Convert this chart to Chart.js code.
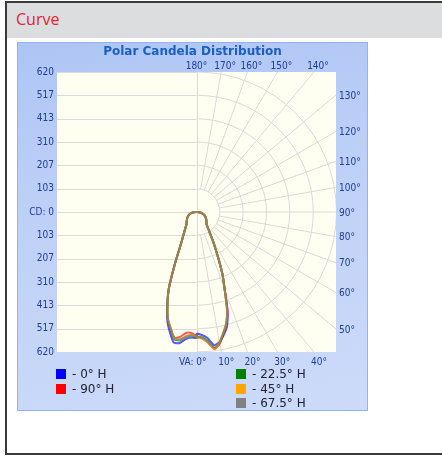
<!DOCTYPE html>
<html>
<head>
<meta charset="utf-8">
<script src="https://cdn.jsdelivr.net/npm/chart.js@4.4.0/dist/chart.umd.min.js"></script>
<style>
  body { margin: 0; width: 442px; height: 456px; overflow: hidden; background: #fff; position: relative; }
  #frame { position: absolute; left: 5px; top: 1px; width: 460px; height: 450px; border: 2px solid #3a3a3a; }
  #header { position: absolute; left: 7px; top: 3px; width: 440px; height: 35px; background: #dcdddf; }
  #header span { position: absolute; left: 9px; top: 5px; color: #e8232f; font: 16px 'Open Sans', sans-serif; line-height: normal; }
  #panel { position: absolute; left: 17px; top: 42px; width: 349px; height: 367px; border: 1px solid #93b2f0;
           background: linear-gradient(170deg, #aec5f5 0%, #bdd0f7 40%, #cddbf9 100%); }
  #c { position: absolute; left: 18px; top: 43px; }
  .lg { position: absolute; font: 12px 'DejaVu Sans', sans-serif; line-height: 14px; color: #222233; white-space: nowrap; }
  .sw { position: absolute; width: 10px; height: 10px; }
</style>
</head>
<body>
<div id="frame"></div>
<div id="header"><span>Curve</span></div>
<div id="panel"></div>
<canvas id="c" width="349" height="367"></canvas>
<div id="legend"></div>
<script>
// vertical angles (deg from nadir) at which the candela values are read
var vaAngles = [0, 2.5, 5, 7.5, 10, 12.5, 15, 17.5, 20, 22.5, 25, 27.5, 30, 35, 40, 45, 50, 55, 60, 65, 70, 75, 80, 85, 90];

// candela per C-plane, right half and opposite (left) half
var h0Right  = [540,545,560,595,586,558,524,457,368,305,236,182,143,92,69,63,57,52,47,41,35,28,20,11,0];
var h0Left   = [558,556,566,586,586,546,500,432,360,256,178,138,115,85,68,62,56,51,46,40,35,29,22,12,0];
var h22Right = [550,555,573,607,590,551,513,452,366,304,235,181,143,92,69,63,57,52,47,41,35,28,20,11,0];
var h22Left  = [552,548,556,574,573,531,492,429,358,255,178,138,115,85,68,62,56,51,46,40,35,29,22,12,0];
var h45Right = [556,561,580,611,588,548,511,450,365,303,235,181,143,92,69,63,57,52,47,41,35,28,20,11,0];
var h45Left  = [550,545,551,568,568,528,490,428,358,255,178,138,115,85,68,62,56,51,46,40,35,29,22,12,0];
var h67Right = [553,558,575,606,585,548,510,450,365,303,235,181,143,92,69,63,57,52,47,41,35,28,20,11,0];
var h67Left  = [551,546,554,570,568,528,490,428,358,255,178,138,115,85,68,62,56,51,46,40,35,29,22,12,0];
var h90Right = [555,560,580,612,593,553,516,460,368,304,236,181,143,92,69,63,57,52,47,41,35,28,20,11,0];
var h90Left  = [548,536,538,558,565,530,492,430,358,255,178,138,115,85,68,62,56,51,46,40,35,29,22,12,0];

// axis ticks / grid
var cdMax = 620;
var cdRings = [103, 207, 310, 413, 517, 620];
var vaGrid = [0, 10, 20, 30, 40, 50, 60, 70, 80, 90, 100, 110, 120, 130, 140, 150, 160, 170, 180];
var vaLabels = ['VA: 0°', '10°', '20°', '30°', '40°', '50°', '60°', '70°', '80°', '90°', '100°', '110°', '120°', '130°', '140°', '150°', '160°', '170°', '180°'];

var chartTitle = 'Polar Candela Distribution';
var legendNames = ['- 0° H', '- 90° H', '- 22.5° H', '- 45° H', '- 67.5° H'];
var legendColors = ['#0000ff', '#ff0000', '#008000', '#ffa500', '#808080'];

var labelFont = "10px 'DejaVu Sans Condensed', 'DejaVu Sans', sans-serif";
var labelColor = '#1c3d99';

function toPoints(left, right) {
    var pts = [];
    for (var i = vaAngles.length - 1; i >= 0; i--) {
        var t = vaAngles[i] * Math.PI / 180;
        pts.push({ x: -left[i] * Math.sin(t), y: -left[i] * Math.cos(t) });
    }
    for (var j = 0; j < vaAngles.length; j++) {
        var u = vaAngles[j] * Math.PI / 180;
        pts.push({ x: right[j] * Math.sin(u), y: -right[j] * Math.cos(u) });
    }
    return pts;
}

function lineSet(pts, color) {
    return { data: pts, borderColor: color, borderWidth: 2, showLine: true, pointRadius: 0, tension: 0.2, fill: false };
}

// cream plot background + polar grid in right half, horizontal grid in left half
var polarGrid = {
    id: 'polarGrid',
    beforeDatasetsDraw: function (chart) {
        var ctx = chart.ctx, a = chart.chartArea;
        var xs = chart.scales.x, ys = chart.scales.y;
        var cx = xs.getPixelForValue(0), cy = ys.getPixelForValue(0);
        ctx.save();
        ctx.fillStyle = '#fffff1';
        ctx.fillRect(a.left, a.top, a.right - a.left, a.bottom - a.top);
        ctx.beginPath();
        ctx.rect(a.left, a.top, a.right - a.left, a.bottom - a.top);
        ctx.clip();
        ctx.strokeStyle = '#dadada';
        ctx.lineWidth = 1;
        ctx.beginPath();
        [0].concat(cdRings).forEach(function (v) {
            [v, -v].forEach(function (s) {
                var py = Math.round(ys.getPixelForValue(s)) + 0.5;
                ctx.moveTo(a.left, py);
                ctx.lineTo(cx, py);
            });
        });
        ctx.moveTo(Math.round(cx) + 0.5, a.top);
        ctx.lineTo(Math.round(cx) + 0.5, a.bottom);
        ctx.stroke();
        cdRings.forEach(function (v) {
            var r = cy - ys.getPixelForValue(v);
            ctx.beginPath();
            ctx.arc(cx, cy, r, -Math.PI / 2, Math.PI / 2);
            ctx.stroke();
        });
        var r0 = cy - ys.getPixelForValue(cdRings[0]);
        ctx.beginPath();
        vaGrid.forEach(function (va) {
            if (va === 0 || va === 180) return; // already the centre line
            var t = va * Math.PI / 180;
            ctx.moveTo(cx + r0 * Math.sin(t), cy + r0 * Math.cos(t));
            ctx.lineTo(cx + 400 * Math.sin(t), cy + 400 * Math.cos(t));
        });
        ctx.stroke();
        ctx.restore();
    },
    afterDraw: function (chart) {
        var ctx = chart.ctx, a = chart.chartArea;
        var cx = chart.scales.x.getPixelForValue(0), cy = chart.scales.y.getPixelForValue(0);
        ctx.save();
        // title, centred on the whole panel
        ctx.font = "bold 12px 'DejaVu Sans', sans-serif";
        ctx.fillStyle = '#1b5fc0';
        ctx.textAlign = 'center';
        ctx.textBaseline = 'middle';
        ctx.fillText(chartTitle, chart.width / 2, 9);

        ctx.font = labelFont;
        ctx.fillStyle = labelColor;
        vaGrid.forEach(function (va, i) {
            var t = va * Math.PI / 180;
            var dx = Math.sin(t), dy = Math.cos(t);
            var sx = dx > 1e-6 ? (a.right - cx) / dx : Infinity;
            var sy = Math.abs(dy) > 1e-6 ? (dy > 0 ? (a.bottom - cy) / dy : (a.top - cy) / dy) : Infinity;
            var txt = vaLabels[i];
            ctx.textBaseline = 'middle';
            if (sx < sy) {
                ctx.textAlign = 'left';
                ctx.fillText(txt, a.right + 3, cy + dy * sx + 1);
            } else if (dy > 0) {
                if (va === 0) {
                    ctx.textAlign = 'right';
                    ctx.fillText(txt, cx + 10, a.bottom + 10);
                } else {
                    ctx.textAlign = 'center';
                    ctx.fillText(txt, cx + dx * sy + 5, a.bottom + 10);
                }
            } else {
                ctx.textAlign = 'center';
                ctx.fillText(txt, va === 180 ? cx : cx + dx * sy + 4, a.top - 6);
            }
        });
        ctx.restore();
    }
};

var ctx = document.getElementById('c').getContext('2d');
var myChart = new Chart(ctx, {
    type: 'scatter',
    data: {
        datasets: [
            lineSet(toPoints(h67Left, h67Right), 'rgba(128,128,128,0.65)'),
            lineSet(toPoints(h45Left, h45Right), 'rgba(255,165,0,0.65)'),
            lineSet(toPoints(h22Left, h22Right), 'rgba(0,128,0,0.65)'),
            lineSet(toPoints(h90Left, h90Right), 'rgba(255,0,0,0.65)'),
            lineSet(toPoints(h0Left, h0Right), 'rgba(0,0,255,0.65)')
        ]
    },
    options: {
        responsive: false,
        animation: false,
        devicePixelRatio: 1,
        layout: { padding: { left: 0, right: 31, top: 29, bottom: 58 } },
        plugins: {
            legend: { display: false },
            tooltip: { enabled: false },
            title: { display: false }
        },
        scales: {
            x: { display: false, min: -cdMax, max: cdMax },
            y: {
                min: -cdMax,
                max: cdMax,
                border: { display: false },
                grid: { display: false, drawTicks: false },
                afterBuildTicks: function (axis) {
                    var vals = cdRings.slice().reverse().concat([0], cdRings.map(function (v) { return -v; }));
                    axis.ticks = vals.map(function (v) { return { value: v }; });
                },
                afterFit: function (scale) { scale.width = 39; },
                ticks: {
                    padding: 3,
                    color: labelColor,
                    font: { family: "'DejaVu Sans Condensed', 'DejaVu Sans', sans-serif", size: 10 },
                    callback: function (v) { return v === 0 ? 'CD: 0' : String(Math.abs(v)); }
                }
            }
        }
    },
    plugins: [polarGrid]
});

// legend in two columns under the chart
var legendPos = [[56, 369], [56, 384], [236, 369], [236, 384], [236, 398]];
var lg = document.getElementById('legend');
legendNames.forEach(function (name, i) {
    var sw = document.createElement('div');
    sw.className = 'sw';
    sw.style.left = legendPos[i][0] + 'px';
    sw.style.top = legendPos[i][1] + 'px';
    sw.style.background = legendColors[i];
    lg.appendChild(sw);
    var tx = document.createElement('div');
    tx.className = 'lg';
    tx.style.left = (legendPos[i][0] + 16) + 'px';
    tx.style.top = (legendPos[i][1] - 2) + 'px';
    tx.textContent = name;
    lg.appendChild(tx);
});
</script>
</body>
</html>
